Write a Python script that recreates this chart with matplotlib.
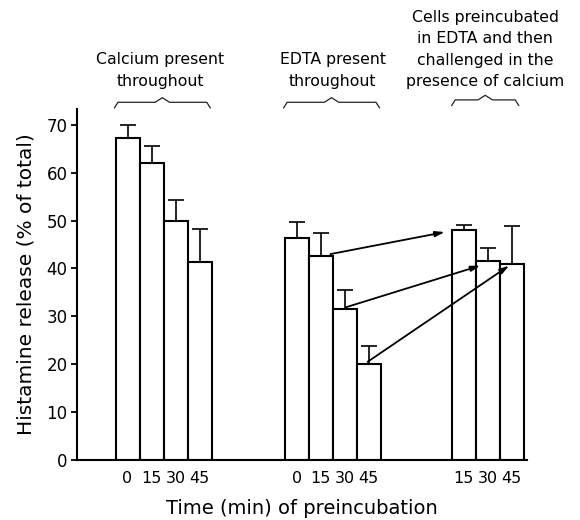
import matplotlib
matplotlib.use("Agg")
from matplotlib import pyplot as plt
import numpy as np

plt.rcParams['font.family'] = ['DejaVu Sans']

# Histamine release (% of total), bar heights and upper error (SEM)
times_ca = ["0", "15", "30", "45"]
release_ca = [67.3, 62.1, 49.9, 41.4]
err_ca = [2.6, 3.4, 4.3, 6.9]

times_edta = ["0", "15", "30", "45"]
release_edta = [46.4, 42.6, 31.5, 20.1]
err_edta = [3.2, 4.8, 4.0, 3.8]

times_chal = ["15", "30", "45"]
release_chal = [48.1, 41.5, 41.0]
err_chal = [1.0, 2.8, 7.9]

group_labels = ["Calcium present\nthroughout",
                "EDTA present\nthroughout",
                "Cells preincubated\nin EDTA and then\nchallenged in the\npresence of calcium"]

# layout: bar centres for each group
x_ca = np.arange(4) + 2.1
x_edta = np.arange(4) + 9.15
x_chal = np.arange(3) + 16.1

fig = plt.figure(figsize=(5.8, 5.2), dpi=100)
ax = fig.add_axes([0.133, 0.1154, 0.776, 0.675])

for xs, ys, es in [(x_ca, release_ca, err_ca),
                   (x_edta, release_edta, err_edta),
                   (x_chal, release_chal, err_chal)]:
    ax.bar(xs, ys, width=1.0, color='white', edgecolor='black', linewidth=1.5, zorder=2)
    ax.errorbar(xs, ys, yerr=[np.zeros(len(es)), es], fmt='none', ecolor='black',
                elinewidth=1.2, capsize=5.5, capthick=1.2, zorder=1)

# arrows from EDTA bars to the challenged bars
arrow_pairs = [(1, 0, 0.4, -0.78, -0.1), (2, 1, 0.05, -0.3, -0.5), (3, 2, -0.05, -0.1, 0.0)]
for i, j, dx0, dx1, dy1 in arrow_pairs:
    ax.annotate("", xy=(x_chal[j] + dx1, release_chal[j] + dy1 - 0.4),
                xytext=(x_edta[i] + dx0, release_edta[i] + 0.4),
                arrowprops=dict(arrowstyle='-|>,head_length=0.55,head_width=0.16',
                                color='black', lw=1.3, shrinkA=0, shrinkB=0), zorder=3)

ax.set_xlim(0, 18.75)
ax.set_ylim(0, 73.3)
ax.set_yticks(np.arange(0, 71, 10))
ax.tick_params(axis='y', direction='out', length=4, width=1.3, labelsize=12, pad=3)
xticks = list(x_ca) + list(x_edta) + list(x_chal)
ax.set_xticks(xticks)
ax.set_xticklabels(times_ca + times_edta + times_chal)
ax.tick_params(axis='x', length=0, labelsize=11.5, pad=8)
for s in ['top', 'right']:
    ax.spines[s].set_visible(False)
ax.spines['left'].set_linewidth(1.5)
ax.spines['bottom'].set_linewidth(1.5)

ax.set_ylabel("Histamine release (% of total)", fontsize=14.5, labelpad=8)
ax.set_xlabel("Time (min) of preincubation", fontsize=14, labelpad=9)


# group headers with braces
def brace(x0, x1, y, h):
    xm = (x0 + x1) / 2
    xs = [x0, x0 + 0.15, xm - 0.3, xm, xm + 0.3, x1 - 0.15, x1]
    ys = [y - h, y, y, y + h * 0.8, y, y, y - h]
    ax.plot(xs, ys, color='#222222', lw=0.9, clip_on=False, solid_capstyle='round')


brace(x_ca[0] - 0.55, x_ca[-1] + 0.45, 74.7, 1.2)
brace(x_edta[0] - 0.55, x_edta[-1] + 0.45, 74.7, 1.2)
brace(x_chal[0] - 0.5, x_chal[-1] + 0.3, 75.2, 1.2)

ax.text(x_ca.mean() - 0.15, 77.4, group_labels[0], ha='center', va='bottom', fontsize=11.3,
        linespacing=1.6, clip_on=False)
ax.text(x_edta.mean(), 77.4, group_labels[1], ha='center', va='bottom', fontsize=11.3,
        linespacing=1.6, clip_on=False)
ax.text(x_chal.mean() - 0.1, 77.4, group_labels[2], ha='center', va='bottom', fontsize=11.3,
        linespacing=1.55, clip_on=False)

fig.savefig("out.png", dpi=100)
